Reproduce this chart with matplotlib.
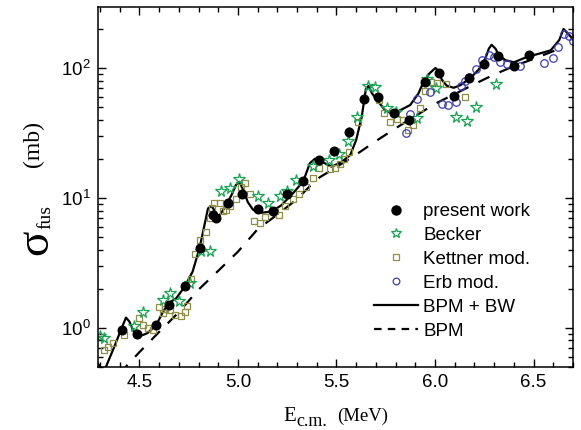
import matplotlib
matplotlib.use("Agg")
import matplotlib.pyplot as plt
from matplotlib.lines import Line2D
from matplotlib.ticker import MultipleLocator, LogLocator, NullFormatter

# present work
e_pw = [4.41, 4.49, 4.585, 4.648, 4.73, 4.805, 4.873, 4.887, 4.95, 5.02, 5.10, 5.178,
        5.25, 5.33, 5.41, 5.487, 5.565, 5.64, 5.713, 5.79, 5.87, 5.947, 6.018, 6.095,
        6.174, 6.247, 6.32, 6.40, 6.476]
s_pw = [0.97, 0.90, 1.05, 1.50, 2.10, 4.1, 7.4, 7.0, 9.2, 10.7, 8.2, 8.0,
        10.8, 13.6, 19.6, 23.0, 32.4, 57.7, 60.0, 44.8, 39.8, 78.5, 92.0, 61.0,
        84.0, 107.0, 124.0, 104.0, 127.0]
err_pw = [0.06, 0.05, 0.06, 0.09, 0.12, 0.25, 0.4, 0.4, 0.5, 0.6, 0.5, 0.5,
          0.6, 0.8, 1.2, 1.8, 3.0, 3.5, 3.5, 2.7, 2.4, 4.7, 5.5, 3.7,
          5.0, 6.4, 7.4, 6.2, 7.6]

# Becker
e_bk = [4.30, 4.32, 4.475, 4.517, 4.62, 4.653, 4.70, 4.755, 4.815, 4.86, 4.915, 4.958,
        5.005, 5.10, 5.155, 5.213, 5.25, 5.297, 5.38, 5.463, 5.514, 5.56, 5.606, 5.662,
        5.696, 5.755, 5.80, 5.908, 5.959, 6.004, 6.107, 6.163, 6.21, 6.307]
s_bk = [0.87, 0.83, 1.04, 1.33, 1.64, 1.87, 1.62, 2.23, 3.9, 3.93, 11.3, 11.9,
        13.9, 10.4, 9.2, 10.4, 11.4, 13.8, 17.6, 19.6, 21.8, 27.4, 42.2, 72.6,
        71.0, 49.0, 46.0, 41.0, 83.0, 70.0, 41.8, 39.4, 50.4, 76.0]

# Kettner mod.
e_kt = [4.318, 4.342, 4.368, 4.42, 4.497, 4.52, 4.546, 4.57, 4.60, 4.619, 4.63, 4.656,
        4.68, 4.71, 4.729, 4.742, 4.763, 4.78, 4.805, 4.84, 4.856, 4.868, 4.88, 4.907,
        4.924, 4.94, 4.96, 4.988, 5.014, 5.034, 5.063, 5.08, 5.11, 5.136, 5.187, 5.209,
        5.238, 5.28, 5.31, 5.345, 5.382, 5.412, 5.467, 5.49, 5.52, 5.54, 5.565, 5.61,
        5.716, 5.743, 5.77, 5.806, 5.84, 5.865, 5.89, 5.925, 5.95, 5.98, 6.01, 6.056, 6.154]
s_kt = [0.68, 0.71, 0.77, 0.88, 1.19, 1.05, 1.00, 0.96, 1.46, 1.30, 1.39, 1.37,
        1.26, 1.24, 1.32, 1.48, 2.38, 3.7, 4.75, 5.5, 7.0, 8.3, 9.2, 9.1,
        7.9, 8.1, 8.6, 9.8, 12.1, 13.1, 10.7, 6.6, 6.4, 7.2, 7.9, 7.4,
        8.6, 9.9, 10.7, 12.1, 14.2, 16.9, 16.6, 17.1, 18.1, 19.8, 22.4, 38.5,
        56.8, 44.8, 38.5, 40.4, 39.8, 33.3, 36.3, 49.0, 66.0, 78.5, 77.0, 76.0, 60.0]

# Erb mod.
e_erb = [5.854, 5.874, 5.91, 5.975, 6.035, 6.066, 6.106, 6.133, 6.15, 6.17, 6.208, 6.24,
         6.276, 6.30, 6.33, 6.366, 6.43, 6.553, 6.60, 6.622, 6.652, 6.68, 6.70]
s_erb = [31.8, 44.3, 57.5, 65.0, 52.7, 51.5, 55.0, 72.5, 79.6, 85.0, 98.0, 116.0,
         127.0, 121.0, 112.0, 107.0, 104.0, 109.0, 120.0, 144.0, 182.0, 178.0, 162.0]

# BPM + BW (solid)
e_bw = [4.29, 4.31, 4.33, 4.37, 4.407, 4.432, 4.449, 4.475, 4.50, 4.54, 4.585, 4.62,
        4.648, 4.687, 4.73, 4.77, 4.805, 4.83, 4.848, 4.865, 4.885, 4.90, 4.93, 4.967,
        4.99, 5.008, 5.03, 5.05, 5.077, 5.119, 5.17, 5.221, 5.28, 5.331, 5.365, 5.39,
        5.425, 5.476, 5.527, 5.57, 5.60, 5.628, 5.649, 5.662, 5.68, 5.705, 5.746, 5.78,
        5.825, 5.874, 5.916, 5.942, 5.972, 6.002, 6.018, 6.035, 6.06, 6.095, 6.13, 6.18,
        6.22, 6.256, 6.273, 6.287, 6.307, 6.323, 6.357, 6.40, 6.468, 6.536, 6.587, 6.63,
        6.652, 6.673, 6.70]
s_bw = [0.53, 0.48, 0.50, 0.70, 0.97, 1.20, 1.12, 0.91, 0.86, 0.91, 1.05, 1.33,
        1.55, 1.69, 2.08, 2.71, 4.10, 6.17, 8.3, 8.7, 7.85, 7.1, 8.3, 10.5,
        12.6, 13.3, 11.2, 9.3, 8.1, 7.7, 7.85, 8.8, 10.9, 13.4, 18.5, 20.0,
        19.0, 17.4, 19.0, 21.4, 28.0, 42.0, 69.0, 72.6, 64.0, 56.8, 47.5, 44.7,
        47.5, 51.9, 63.8, 78.5, 91.0, 100.0, 95.0, 81.0, 73.0, 70.5, 74.0, 84.0,
        96.6, 119.0, 141.0, 151.0, 141.0, 126.0, 115.0, 110.7, 122.0, 130.0, 137.0, 164.0,
        200.0, 185.0, 167.0]

# BPM (dashed)
e_bpm = [4.40, 4.44, 4.50, 4.60, 4.70, 4.80, 4.90, 5.00, 5.10, 5.20, 5.30, 5.40,
         5.50, 5.60, 5.70, 5.80, 5.90, 6.00, 6.10, 6.20, 6.30, 6.40, 6.50, 6.60, 6.65]
s_bpm = [0.44, 0.52, 0.65, 0.93, 1.32, 1.97, 2.75, 3.86, 5.75, 7.45, 9.8, 13.96,
         17.3, 21.6, 27.4, 34.4, 42.7, 53.1, 63.1, 75.3, 89.1, 103.5, 117.5, 134.9, 144.5]

c_green = "#14a550"
c_olive = "#8e8e44"
c_blue = "#3c3cb4"

plt.rcParams["font.family"] = "Liberation Sans"
plt.rcParams["font.size"] = 13.5

fig = plt.figure(figsize=(5.81, 4.30), dpi=100)
ax = fig.add_axes([98 / 581, 63 / 430, 475 / 581, 360 / 430])

ax.plot(e_bpm, s_bpm, color="black", lw=1.6, linestyle=(0, (5.5, 5.0)))
ax.plot(e_bw, s_bw, color="black", lw=1.6)
ax.plot(e_kt, s_kt, "s", ms=4.8, mfc="none", mec=c_olive, mew=0.9)
ax.plot(e_bk, s_bk, "*", ms=8.5, mfc="none", mec=c_green, mew=0.9)
ax.plot(e_erb, s_erb, "o", ms=5.4, mfc="none", mec=c_blue, mew=0.9)
ax.errorbar(e_pw, s_pw, yerr=err_pw, fmt="o", ms=6.2, color="black", elinewidth=1.0, capsize=0)

ax.set_yscale("log")
ax.set_xlim(4.29, 6.70)
ax.set_ylim(0.5, 295)
ax.xaxis.set_major_locator(MultipleLocator(0.5))
ax.xaxis.set_minor_locator(MultipleLocator(0.1))
ax.yaxis.set_major_locator(LogLocator(base=10))
ax.yaxis.set_minor_locator(LogLocator(base=10, subs=range(2, 10)))
ax.yaxis.set_minor_formatter(NullFormatter())
ax.tick_params(which="both", direction="in", top=True, right=True, width=1.0)
ax.tick_params(which="major", length=6, labelsize=13.5, pad=5)
ax.tick_params(which="minor", length=3.5)
for sp in ax.spines.values():
    sp.set_linewidth(1.1)

handles = [
    Line2D([], [], ls="none", marker="o", ms=6.5, color="black"),
    Line2D([], [], ls="none", marker="*", ms=7, mfc="none", mec=c_green, mew=0.9),
    Line2D([], [], ls="none", marker="s", ms=4.2, mfc="none", mec=c_olive, mew=0.9),
    Line2D([], [], ls="none", marker="o", ms=4.8, mfc="none", mec=c_blue, mew=0.9),
    Line2D([], [], color="black", lw=1.6),
    Line2D([], [], color="black", lw=1.6, linestyle=(0, (3.4, 2.8))),
]
labels = ["present work", "Becker", "Kettner mod.", "Erb mod.", "BPM + BW", "BPM"]
ax.legend(handles, labels, loc="upper left", bbox_to_anchor=(374 / 581, 1 - 203 / 430),
          bbox_transform=fig.transFigure, frameon=False, borderpad=0, borderaxespad=0,
          handlelength=2.35, handletextpad=0.27, labelspacing=0.36, fontsize=13.5)

# y label pieces
serif = "Liberation Serif"
fig.text(47 / 581, 1 - 255 / 430, "\u03c3", family=serif, fontsize=34, rotation=90,
         rotation_mode="anchor", ha="left", va="baseline")
fig.text(50 / 581, 1 - 229 / 430, "fus", family=serif, fontsize=14, rotation=90,
         rotation_mode="anchor", ha="left", va="baseline")
fig.text(39 / 581, 1 - 167 / 430, "(mb)", family=serif, fontsize=17, rotation=90,
         rotation_mode="anchor", ha="left", va="baseline")

# x label pieces
fig.text(283 / 581, 1 - 421 / 430, "E", family=serif, fontsize=15, ha="left", va="baseline")
fig.text(296 / 581, 1 - 426 / 430, "c.m.", family=serif, fontsize=13, ha="left", va="baseline")
fig.text(337 / 581, 1 - 421 / 430, "(MeV)", family=serif, fontsize=13.5, ha="left", va="baseline")

fig.savefig("out.png", dpi=100)
